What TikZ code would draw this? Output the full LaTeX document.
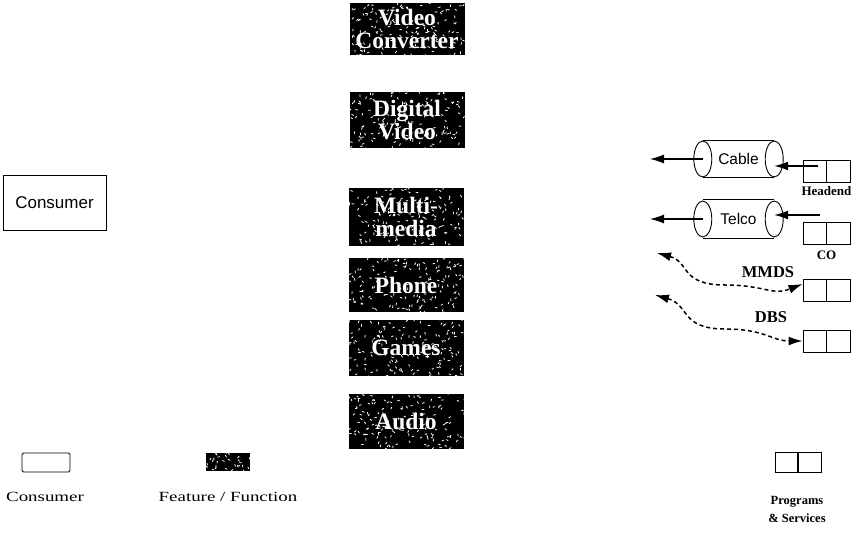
\documentclass[tikz,border=0pt]{standalone}
\usepackage{fontspec}
\setmainfont{Liberation Serif}
\newfontfamily\sansf{Liberation Sans}
\newfontfamily\widef[FakeStretch=1.35]{Liberation Serif}
\usetikzlibrary{arrows.meta}
\pgfmathsetseed{7}
\tikzset{
  specks/.style n args={3}{path picture={%
    \foreach \k in {1,...,#1}{%
      \pgfmathsetmacro\px{#2*rand}%
      \pgfmathsetmacro\py{#3*rand}%
      \pgfmathsetmacro\pa{180*rand}%
      \draw[white,line width=0.8pt,line cap=round] ([shift={(\px,\py)}]path picture bounding box.center) -- ++(\pa:2);
    }}},
  feat/.style={fill=black, minimum width=115pt, minimum height=54pt, inner sep=0pt,
    text=white, font=\fontsize{23.5}{23}\selectfont\bfseries, align=center, specks={150}{58}{28}},
  legfeat/.style={fill=black, minimum width=44pt, minimum height=18pt, inner sep=0pt, specks={30}{22}{9}},
  consbox/.style={draw, line width=0.8pt, minimum width=103pt, minimum height=55pt, inner sep=0pt,
    font=\sansf\fontsize{17}{17}\selectfont},
  legcons/.style={draw, line width=0.9pt, rounded corners=1.5pt, minimum width=48pt, minimum height=19pt, inner sep=0pt},
  ps/.style={draw, line width=0.9pt, minimum width=47pt, minimum height=22pt, inner sep=0pt,
    path picture={\draw[line width=1.6pt] (path picture bounding box.north) -- (path picture bounding box.south);}},
  cyl/.style={minimum width=71pt, minimum height=36pt, inner sep=0pt, font=\sansf\fontsize{15.5}{15}\selectfont},
  lab/.style={font=\bfseries\fontsize{13}{13}\selectfont, inner sep=0pt},
  leglab/.style={font=\widef\fontsize{14}{14}\selectfont, inner sep=0pt},
  arr/.style={line width=1.2pt, -{Latex[length=14pt,width=9pt]}},
  darr/.style={line width=1.5pt, dash pattern=on 4pt off 3pt, {Latex[length=14pt,width=9pt]}-{Latex[length=14pt,width=9pt]}},
}
\newcommand{\cylout}[1]{%
  \draw[line width=0.9pt] (#1.north west) -- (#1.north east) (#1.south west) -- (#1.south east);
  \draw[line width=0.9pt] (#1.west) ellipse [x radius=9pt, y radius=18pt];
  \draw[line width=0.9pt] (#1.east) ellipse [x radius=9pt, y radius=18pt];
}
\begin{document}
\begin{tikzpicture}[x=1pt,y=-1pt]
\useasboundingbox[fill=white] (0,0) rectangle (860,551);

% feature boxes
\node[feat, minimum height=52pt] (vc) at (407,29) {Video\\Converter};
\node[feat, minimum height=56pt] (dv) at (407,120) {Digital\\Video};
\node[feat, minimum height=58pt] (mm) at (406,217) {Multi-\\media};
\node[feat] (ph) at (406,285) {Phone};
\node[feat, minimum height=56pt] (ga) at (406,348) {Games};
\node[feat, minimum height=55pt] (au) at (406,421.5) {Audio};

% consumer
\node[consbox] (cons) at (54.5,202.5) {Consumer};

% cylinders
\node[cyl] (cable) at (738.5,159) {Cable};
\cylout{cable}
\node[cyl, minimum height=38pt] (telco) at (738.5,219) {Telco};
\cylout{telco}

% program boxes
\node[ps] (he) at (826.5,171) {};
\node[lab, anchor=north] (helab) at (826.5,186) {Headend};
\node[ps] (co) at (826.5,233.5) {};
\node[lab, anchor=north] (colab) at (826.5,251) {CO};
\node[ps] (mb) at (826.5,290) {};
\node[ps] (db) at (826.5,341) {};

% arrows cable / telco
\coordinate (cl) at (650,159);
\coordinate (tl) at (650,219);
\coordinate (hs) at (818,166);
\coordinate (ts) at (820,215);
\draw[arr] (cable.west) -- (cl);
\draw[arr] (telco.west) -- (tl);
\draw[arr] (hs) -- (hs -| cable.east);
\draw[arr] (ts) -- (ts -| telco.east);

% MMDS / DBS
\coordinate (ml) at (657,253);
\coordinate (dl) at (655,295);
\draw[darr] (ml) .. controls (690,262) and (680,285) .. (725,285)
  .. controls (765,285) and (772,296) .. ([yshift=6pt]mb.west);
\draw[darr] (dl) .. controls (690,305) and (680,329) .. (725,329)
  .. controls (765,329) and (772,341) .. (db.west);
\node[font=\bfseries\fontsize{16.5}{16}\selectfont] (mmlab) at (768,272) {MMDS};
\node[font=\bfseries\fontsize{16.5}{16}\selectfont] (dblab) at (771,317) {DBS};

% legend
\node[legcons] (lc) at (46,462.5) {};
\node[leglab] (lct) at (45,497) {Consumer};
\node[legfeat] (lf) at (228,462) {};
\node[leglab] (lft) at (228,497) {Feature / Function};
\node[ps, minimum width=46pt, minimum height=20pt] (lp) at (798,462) {};
\node[lab, font=\bfseries\fontsize{12.5}{18}\selectfont, align=center, anchor=north] (lpt) at (797,496) {Programs\\\& Services};
\end{tikzpicture}
\end{document}
